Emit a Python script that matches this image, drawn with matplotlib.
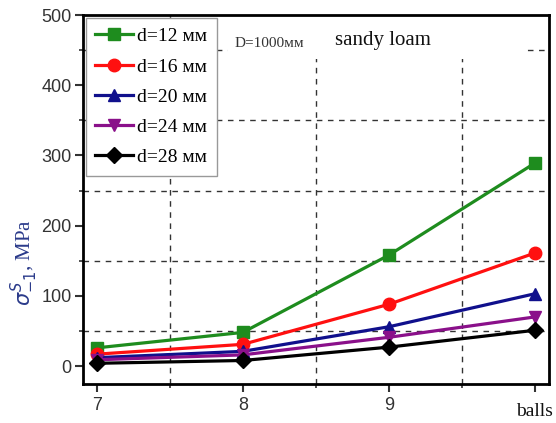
import matplotlib
matplotlib.use("Agg")
import matplotlib.pyplot as plt
from matplotlib.patches import Rectangle

balls = [7, 8, 9, 10]
labels = ["d=12 мм", "d=16 мм", "d=20 мм", "d=24 мм", "d=28 мм"]
d12 = [26, 48, 158, 289]
d16 = [17, 31, 88, 161]
d20 = [12, 21, 56, 103]
d24 = [9, 16, 41, 70]
d28 = [4, 8, 27, 51]
series = [d12, d16, d20, d24, d28]
colors = ["#1e8c1e", "#ff1010", "#10108c", "#8a108a", "#000000"]
markers = ["s", "o", "^", "v", "D"]
xtick_labels = ["7", "8", "9", ""]

fig = plt.figure(figsize=(5.56, 4.23), dpi=100)
ax = fig.add_axes([0.149, 0.092, 0.838, 0.8725])

ax.set_xlim(6.904, 10.096)
ax.set_ylim(-25.6, 500)

# grid at minor positions
for gx in [7.5, 8.5, 9.5]:
    ax.axvline(gx, color="#333333", ls=(0, (4, 4)), lw=1.0, zorder=1)
for gy in [50, 150, 250, 350, 450]:
    ax.axhline(gy, color="#333333", ls=(0, (4, 4)), lw=1.0, zorder=1)
ax.add_patch(Rectangle((7.9, 437), 2.05, 70, facecolor="white", edgecolor="none", zorder=1.5))

ms = [8, 9, 9, 9, 8]
for vals, c, m, lab, s in zip(series, colors, markers, labels, ms):
    ax.plot(balls, vals, color=c, marker=m, lw=2.3, ms=s, label=lab, zorder=3)

ax.set_xticks(balls)
ax.set_xticklabels(xtick_labels)
ax.set_xticks([7.5, 8.5, 9.5], minor=True)
ax.set_yticks([0, 100, 200, 300, 400, 500])
ax.set_yticks([50, 150, 250, 350, 450], minor=True)
ax.tick_params(axis="both", which="major", direction="out", length=6, width=1.5,
               labelsize=13, labelcolor="#333333", colors="#333333")
ax.tick_params(axis="both", which="minor", direction="out", length=3, width=1.2, colors="#333333")
ax.tick_params(axis="y", pad=2)
for t in ax.get_xticklabels() + ax.get_yticklabels():
    t.set_family("Liberation Sans")
for sp in ax.spines.values():
    sp.set_linewidth(2.0)

ax.text(10, -64, "balls", ha="center", va="center", fontsize=14,
        family="Liberation Serif", color="#111111", clip_on=False)

ax.set_ylabel(r"$\sigma^{S}_{-1}$, MPa", fontsize=15, family="Liberation Serif", color="#2a3a8a")
ax.yaxis.set_label_coords(-0.092, 0.33)

ax.text(8.18, 460, "D=1000мм", fontsize=11, family="Liberation Serif", color="#333333",
        va="center", ha="center")
ax.text(8.96, 463, "sandy loam", fontsize=15, family="Liberation Serif", color="#111111",
        va="center", ha="center")

leg = ax.legend(loc="upper left", bbox_to_anchor=(0.0, 1.0), prop={"family": "Liberation Serif", "size": 14},
                frameon=True, fancybox=False, edgecolor="#999999", framealpha=1,
                handlelength=1.95, handletextpad=0.2, labelspacing=0.65, borderpad=0.5,
                borderaxespad=0.15, markerscale=1.0)
leg.get_frame().set_linewidth(1.0)
leg.set_zorder(5)

fig.savefig("out.png", dpi=100)
